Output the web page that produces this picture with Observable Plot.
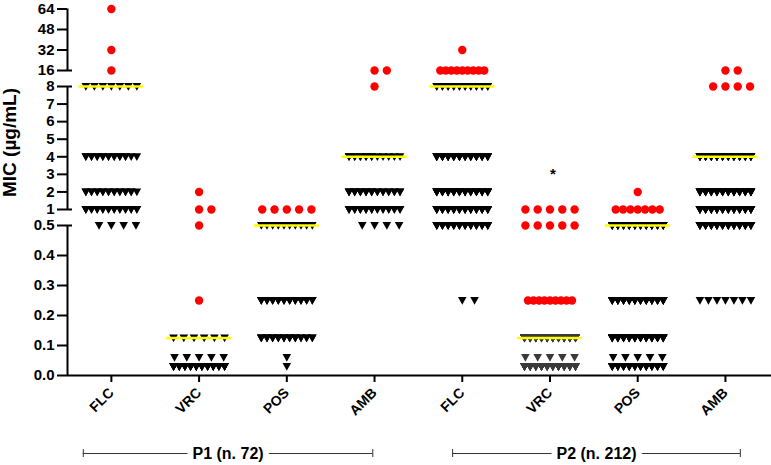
<!DOCTYPE html>
<html><head><meta charset="utf-8">
<script src="https://cdn.jsdelivr.net/npm/d3@7"></script>
<script src="https://cdn.jsdelivr.net/npm/@observablehq/plot@0.6"></script>
<style>body{margin:0;background:#fff;} svg{display:block}</style>
</head><body><div id="chart"></div>
<script>
// ---- data ----
const categories = ["FLC", "VRC", "POS", "AMB", "FLC", "VRC", "POS", "AMB"];
const groups = ["P1 (n. 72)", "P2 (n. 212)"];
const micLevels = [0.03, 0.06, 0.125, 0.25, 0.5, 1, 2, 4, 8, 16, 32, 64];
// cutoff (yellow line) per column; isolates above it are drawn red
const cutoffs = [8, 0.125, 0.5, 4, 8, 0.125, 0.5, 4];
// number of isolates at each MIC level (same order as micLevels)
const p1FLC = [0, 0, 0, 0, 4, 21, 19, 18, 7, 1, 1, 1];
const p1VRC = [56, 5, 6, 1, 1, 2, 1, 0, 0, 0, 0, 0];
const p1POS = [1, 1, 27, 28, 10, 5, 0, 0, 0, 0, 0, 0];
const p1AMB = [0, 0, 0, 0, 4, 25, 25, 15, 1, 2, 0, 0];
const p2FLC = [0, 0, 0, 2, 40, 50, 45, 45, 20, 9, 1, 0];
const p2VRC = [98, 5, 90, 9, 5, 5, 0, 0, 0, 0, 0, 0];
const p2POS = [49, 5, 50, 50, 50, 7, 1, 0, 0, 0, 0, 0];
const p2AMB = [0, 0, 0, 7, 49, 55, 50, 45, 4, 2, 0, 0];
const counts = [p1FLC, p1VRC, p1POS, p1AMB, p2FLC, p2VRC, p2POS, p2AMB];
const yTicks = [0, 0.1, 0.2, 0.3, 0.4, 0.5, 1, 2, 3, 4, 5, 6, 7, 8, 16, 32, 48, 64];
const annotations = [{col: 5, mic: 3.2, text: "*"}];

// ---- layout ----
const W = 771, H = 465;
const mL = 67, mR = 0, mT = 8, mB = 90;
const xDomain = [-0.5, 7.525];
const pxPerUnit = (W - mL - mR) / (xDomain[1] - xDomain[0]);
const yDomain = [0, 0.5, 1, 8, 16, 64];
const yRange = [375, 225, 209, 86, 70, 8.5];
const axisSegments = [[0, 0.5], [1, 8], [16, 64]];
const breakEnds = [0.5, 1, 8, 16];
const groupSpans = [[-0.32, 2.98], [3.89, 7.17]];

function rowOffsets(n, half) {
  if (n <= 5) return [0, 1, -1, 2, -2].slice(0, n).map(k => k * 12.3);
  const slots = Math.min(n, 10);
  return d3.range(n).map(i => -half + (2 * half * (i % slots)) / (slots - 1));
}

const points = [];
counts.forEach((row, col) => {
  row.forEach((n, li) => {
    if (!n) return;
    const mic = micLevels[li];
    const resistant = mic > cutoffs[col];
    rowOffsets(n, resistant ? 22 : 25.5).forEach(off =>
      points.push({col, mic, x: col + off / pxPerUnit, resistant}));
  });
});
const black = points.filter(d => !d.resistant);
const red = points.filter(d => d.resistant);
const cutRows = cutoffs.map((c, col) => ({col, mic: c}));

const triDown = {
  draw(ctx, size) {
    const r = Math.sqrt(size / Math.PI);
    ctx.moveTo(-r, -0.8 * r);
    ctx.lineTo(r, -0.8 * r);
    ctx.lineTo(0, r);
    ctx.closePath();
  }
};

const groupRows = groups.map((g, i) => ({label: g, x1: groupSpans[i][0], x2: groupSpans[i][1]}));
const groupCaps = groupSpans.flat();

const chart = Plot.plot({
  width: W, height: H,
  marginLeft: mL, marginRight: mR, marginTop: mT, marginBottom: mB,
  style: {fontFamily: "'Liberation Sans', Arial, sans-serif", background: "white", overflow: "visible", color: "black"},
  x: {type: "linear", domain: xDomain},
  y: {type: "linear", domain: yDomain, range: yRange},
  marks: [
    Plot.axisY({ticks: yTicks, tickFormat: d => d < 1 ? d.toFixed(1) : String(d), tickSize: 10, tickPadding: 3,
      fontSize: 15, fontWeight: "bold", strokeWidth: 2, label: null}),
    Plot.axisX({ticks: d3.range(categories.length), tickFormat: i => categories[i], tickSize: 7, tickPadding: 8,
      tickRotate: -45, fontSize: 14, fontWeight: "bold", strokeWidth: 2, label: null}),
    Plot.ruleX(axisSegments, {x: () => xDomain[0], y1: d => d[0], y2: d => d[1], strokeWidth: 2}),
    Plot.ruleY(breakEnds, {y: d => d, x1: () => xDomain[0], x2: () => xDomain[0] + 5 / pxPerUnit, strokeWidth: 2}),
    Plot.ruleY([0], {strokeWidth: 2}),
    Plot.text(["MIC (µg/mL)"], {frameAnchor: "top-left", textAnchor: "middle", lineAnchor: "middle", rotate: -90, dx: -58, dy: 134,
      fontSize: 19, fontWeight: "bold"}),
    Plot.dot(black, {x: "x", y: "mic", symbol: triDown, r: 4.3, fill: d => d.col === 5 ? "#3a3a3a" : "black", stroke: null}),
    Plot.ruleY(cutRows, {y: "mic", x1: d => d.col - 0.37, x2: d => d.col + 0.37, stroke: "#ffff00", strokeWidth: 2.5}),
    Plot.dot(red, {x: "x", y: "mic", r: 4.2, fill: "#ff0000", stroke: null}),
    Plot.text(annotations, {x: "col", y: "mic", text: "text", fontSize: 15, fontWeight: "bold", dx: 3, dy: 3}),
    Plot.ruleY(groupRows, {y: () => 0, x1: "x1", x2: "x2", dy: 78, stroke: "#333", strokeWidth: 1}),
    Plot.ruleX(groupCaps, {x: d => d, y1: () => 0, y2: () => 0, insetTop: -4, insetBottom: -4, dy: 78, stroke: "#333", strokeWidth: 1}),
    Plot.text(groupRows, {x: d => (d.x1 + d.x2) / 2, y: () => 0, dy: 78, text: "label", fontSize: 16, fontWeight: "bold",
      fill: "black", stroke: "white", strokeWidth: 12, paintOrder: "stroke"})
  ]
});
document.getElementById("chart").appendChild(chart);
</script>
</body></html>
